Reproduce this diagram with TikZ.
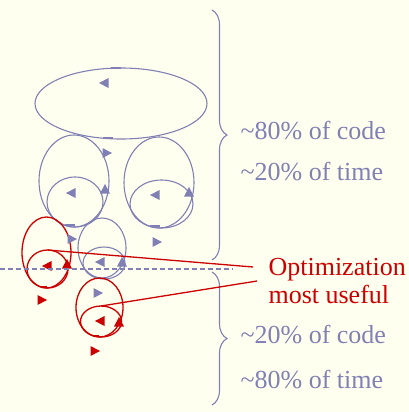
\documentclass[tikz,border=0pt]{standalone}
\usepackage{fontspec}
\setmainfont{Liberation Serif}
\usetikzlibrary{shapes.geometric, positioning, decorations.pathreplacing}
\definecolor{codeblue}{RGB}{128,128,180}
\definecolor{hotred}{RGB}{204,0,0}
\definecolor{paper}{RGB}{255,255,240}
\tikzset{
  trir/.pic={\fill (-4.5,-5) -- (5,0) -- (-4.5,5) -- cycle;},
  tril/.pic={\fill (4.5,-5) -- (-5,0) -- (4.5,5) -- cycle;},
  triu/.pic={\fill (-5,4.5) -- (0,-5) -- (5,4.5) -- cycle;},
}

\begin{document}
\begin{tikzpicture}[x=1pt, y=-1pt, line width=1.1pt,
    loopb/.style={ellipse, draw=codeblue, inner sep=0pt, outer sep=0pt},
    loopr/.style={ellipse, draw=hotred, line width=1.3pt, inner sep=0pt, outer sep=0pt},
    txt/.style={anchor=base west, inner sep=0pt, font=\fontsize{26}{28}\selectfont}]
        \fill[paper] (0,0) rectangle (409,412);
        \useasboundingbox (0,0) rectangle (409,412);

        % blue loops
        \node[loopb, minimum width=172pt, minimum height=71pt] (T) at (121,103.5) {};
        \node[loopb, minimum width=70pt, minimum height=92pt] (Ao) at (74,181) {};
        \node[loopb, minimum width=56pt, minimum height=50pt] (Ai) at (75,202) {};
        \node[loopb, minimum width=70pt, minimum height=91pt] (Bo) at (159,182.5) {};
        \node[loopb, minimum width=63pt, minimum height=48pt] (Bi) at (161.5,204) {};
        \node[loopb, minimum width=48pt, minimum height=60pt] (Co) at (102,248) {};
        \node[loopb, minimum width=42pt, minimum height=32pt] (Ci) at (104,263) {};

        % red loops
        \node[loopr, minimum width=49pt, minimum height=71pt] (Do) at (46.5,252.5) {};
        \node[loopr, minimum width=41pt, minimum height=38pt] (Di) at (47.5,269) {};
        \node[loopr, minimum width=47pt, minimum height=59pt] (Eo) at (99.5,307.5) {};
        \node[loopr, minimum width=41pt, minimum height=31pt] (Ei) at (101,321.5) {};

        % ticks
        \foreach \x/\y in {116/68, 108/138, 70/225, 155/226}
            \draw[codeblue, line width=2pt] (\x-5,\y) -- (\x+5,\y);
        \foreach \x/\y in {44/287, 96/336}
            \draw[hotred, line width=2pt] (\x-3,\y) -- (\x+3,\y);

        % arrow marks
        \pic[codeblue] at (104,83) {tril};
        \pic[codeblue] at (107,153) {trir};
        \pic[codeblue] at (105,189) {triu};
        \pic[codeblue] at (71,193) {tril};
        \pic[codeblue] at (189,192) {triu};
        \pic[codeblue] at (155,195) {tril};
        \pic[codeblue] at (157,242) {trir};
        \pic[codeblue] at (72,239) {trir};
        \pic[codeblue] at (100,262) {tril};
        \pic[codeblue] at (122,262) {triu};
        \pic[codeblue] at (98,293) {trir};
        \pic[hotred] at (47,266) {tril};
        \pic[hotred] at (67,264) {triu};
        \pic[hotred] at (42,300) {trir};
        \pic[hotred] at (100,321) {tril};
        \pic[hotred] at (119,322) {triu};
        \pic[hotred] at (95,351) {trir};

        % cut line
        \coordinate (cutl) at (0,269);
        \coordinate (cutr) at (233,269);
        \draw[codeblue, dash pattern=on 5pt off 3pt] (cutl) -- (cutr);

        % braces
        \draw[codeblue, decorate, decoration={brace, amplitude=15pt}] (212,10) -- (212,260);
        \draw[codeblue, decorate, decoration={brace, amplitude=15pt}] (212,272) -- (212,405);

        % labels
        \node[txt, text=codeblue] (c80) at (240,139) {\textasciitilde80\% of code};
        \node[txt, text=codeblue] (t20) at ([yshift=-41pt]c80.base west) {\textasciitilde20\% of time};
        \node[txt, text=hotred] (opt) at (268,275) {Optimization};
        \node[txt, text=hotred] (use) at ([yshift=-28pt]opt.base west) {most useful};
        \node[txt, text=codeblue] (c20) at (240,343) {\textasciitilde20\% of code};
        \node[txt, text=codeblue] (t80) at ([yshift=-45pt]c20.base west) {\textasciitilde80\% of time};

        \coordinate (e1) at (253,267);
        \coordinate (e2) at (257,281);
        \draw[hotred, line width=1.3pt] (Di.north) -- (e1);
        \draw[hotred, line width=1.3pt] (Ei.north) -- (e2);
    \end{tikzpicture}
\end{document}
